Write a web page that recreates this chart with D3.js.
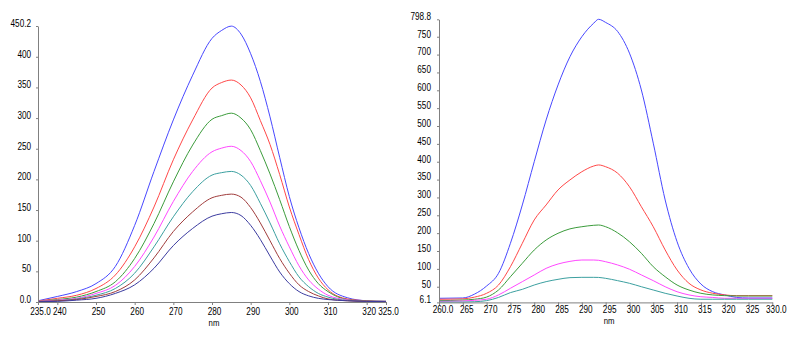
<!DOCTYPE html>
<html>
<head>
<meta charset="utf-8">
<script src="https://cdn.jsdelivr.net/npm/d3@7"></script>
<style>
  html, body { margin: 0; padding: 0; background: #fff; }
  svg { display: block; }
  .tick text { font-family: "Liberation Sans", Arial, sans-serif; font-size: 10px; fill: #000; }
  .axis-title { font-family: "Liberation Sans", Arial, sans-serif; font-size: 9.5px; fill: #000; }
</style>
</head>
<body>
<div id="chart"></div>
<script>
// ---- Data: left spectrum (7 scans) ----
const leftNm = [235, 240, 245, 250, 255, 260, 265, 270, 275, 280, 282.5, 285, 287.5, 290, 292.5, 295, 297.5, 300, 302.5, 305, 307.5, 310, 315, 320, 325];
const leftBlue    = [2, 9, 17, 30, 58, 125, 213, 297, 370, 430, 443, 450, 437, 405, 360, 302, 236, 172, 121, 79, 47, 25, 7, 2, 1];
const leftRed     = [1.5, 6, 11, 22, 44, 90, 155, 232, 297, 349, 358, 362, 354, 333, 296, 257, 208, 155, 110, 69, 39, 20, 5, 2, 1];
const leftGreen   = [1, 4, 8, 17, 33, 71, 128, 196, 256, 298, 304, 308, 300, 281, 247, 209, 167, 123, 84, 52, 30, 17, 4, 1.5, 1];
const leftMagenta = [1, 3, 6, 14, 27, 58, 106, 164, 213, 245, 251, 254, 247, 229, 198, 163, 124, 90, 59, 36, 21, 11, 3.5, 1, 1];
const leftTeal    = [0.5, 2, 5, 11, 22, 47, 90, 139, 180, 207, 211, 213, 207, 190, 161, 129, 95, 66, 41, 25, 14, 8, 2.5, 1, 1];
const leftBrown   = [0.5, 2, 4, 9, 17, 36, 72, 115, 147, 170, 174, 176, 171, 154, 129, 100, 71, 47, 28, 17, 10, 5, 2, 1, 0.5];
const leftNavy    = [0.5, 1, 3, 6, 14, 28, 55, 92, 120, 140, 144, 146, 141, 125, 102, 75, 49, 30, 17, 10, 6, 4, 2, 1, 0.5];

const leftXTicks = [235, 240, 250, 260, 270, 280, 290, 300, 310, 320, 325];
const leftXLabels = ["235.0", "240", "250", "260", "270", "280", "290", "300", "310", "320", "325.0"];
const leftYTicks = [0, 50, 100, 150, 200, 250, 300, 350, 400, 450.2];
const leftYLabels = ["0.0", "50", "100", "150", "200", "250", "300", "350", "400", "450.2"];

// ---- Data: right spectrum (5 scans) ----
const rightNm = [260, 265, 267.5, 270, 272.5, 275, 277.5, 280, 282.5, 285, 287.5, 290, 292.5, 293.5, 295, 297.5, 300, 302.5, 305, 307.5, 310, 312.5, 315, 317.5, 320, 322.5, 325, 330];
const rightBlue    = [17.6, 18.5, 29.6, 52, 87.6, 171.6, 279, 400, 517, 615, 694, 750, 788, 798.8, 790, 765, 704, 601, 452, 293, 176, 101.6, 57.6, 36, 27, 20, 18.5, 18.5];
const rightRed     = [14.8, 16, 21, 31.6, 54.8, 106, 171.6, 237, 279, 321, 349, 372, 388, 391, 386, 368, 330, 274, 218, 153, 97, 59.6, 41, 31.6, 27, 25, 25, 25];
const rightGreen   = [11, 12.7, 15, 21, 40.8, 78, 115.6, 152.8, 180.8, 199.6, 212, 218, 222, 222.8, 218, 201, 176, 143.6, 106, 78, 54.8, 40.8, 31.6, 27, 25, 24, 24, 24];
const rightMagenta = [9, 10, 12, 15, 27, 45.6, 64.2, 82.9, 101.5, 113.6, 121, 124.8, 124.8, 124, 120, 111, 99, 83, 67, 50, 36, 27, 22, 20, 17.6, 17.6, 17.6, 17.6];
const rightTeal    = [7, 7, 8, 11, 20, 33.5, 42.7, 54.8, 64.2, 70.7, 75.4, 76.3, 76.3, 76, 73.5, 67, 59.6, 50, 40.8, 31.6, 24, 17.6, 15, 15, 15, 15, 15, 15];

const rightXTicks = [260, 265, 270, 275, 280, 285, 290, 295, 300, 305, 310, 315, 320, 325, 330];
const rightXLabels = ["260.0", "265", "270", "275", "280", "285", "290", "295", "300", "305", "310", "315", "320", "325", "330.0"];
const rightYTicks = [6.1, 50, 100, 150, 200, 250, 300, 350, 400, 450, 500, 550, 600, 650, 700, 750, 798.8];
const rightYLabels = ["6.1", "50", "100", "150", "200", "250", "300", "350", "400", "450", "500", "550", "600", "650", "700", "750", "798.8"];

// Line colours
const colors = {
    blue: "#4848ff",
    red: "#ff4848",
    green: "#3c9c3c",
    magenta: "#ff48ff",
    teal: "#3ca0a0",
    brown: "#a03c3c",
    navy: "#3c3ca0"
};

// the original labels use a condensed face; squeeze the regular one
const squeeze = 0.82;

const svg = d3.select("#chart").append("svg")
    .attr("width", 800)
    .attr("height", 339);

// Draw one spectrum panel
function drawPanel(opts) {
    const x = d3.scaleLinear().domain(opts.xDomain).range(opts.xRange);
    const y = d3.scaleLinear().domain(opts.yDomain).range(opts.yRange);

    // curves
    const line = d3.line()
        .x(d => x(d[0]))
        .y(d => y(d[1]))
        .curve(d3.curveMonotoneX);

    opts.series.forEach(s => {
        svg.append("path")
            .datum(opts.nm.map((n, i) => [n, s.values[i]]))
            .attr("fill", "none")
            .attr("stroke", s.color)
            .attr("stroke-width", 1)
            .attr("d", line);
    });

    // x axis
    const xAxis = svg.append("g")
        .attr("transform", `translate(0,${opts.yRange[0]})`)
        .call(d3.axisBottom(x)
            .tickValues(opts.xTicks)
            .tickFormat((d, i) => opts.xLabels[i])
            .tickSize(3)
            .tickSizeOuter(0)
            .tickPadding(opts.xPad));
    xAxis.selectAll("text")
        .attr("dx", opts.xLabelShift / squeeze)
        .attr("transform", `scale(${squeeze},1)`);

    // y axis
    const yAxis = svg.append("g")
        .attr("transform", `translate(${opts.xRange[0]},0)`)
        .call(d3.axisLeft(y)
            .tickValues(opts.yTicks)
            .tickFormat((d, i) => opts.yLabels[i])
            .tickSize(2)
            .tickSizeOuter(0)
            .tickPadding(opts.yPad));
    yAxis.selectAll("text")
        .attr("dy", "0.04em")
        .attr("transform", `scale(${squeeze},1)`);

    [xAxis, yAxis].forEach(a => {
        a.select(".domain").attr("stroke", "#808080");
        a.selectAll(".tick line").attr("stroke", "#808080");
    });

    // axis title
    const cx = x((opts.xDomain[0] + opts.xDomain[1]) / 2) + opts.xLabelShift;
    svg.append("text")
        .attr("class", "axis-title")
        .attr("transform", `translate(${cx},${opts.titleY}) scale(${squeeze},1)`)
        .attr("text-anchor", "middle")
        .text("nm");
}

drawPanel({
    nm: leftNm,
    xDomain: [235, 325], xRange: [38, 386],
    yDomain: [0, 450.2], yRange: [302, 26],
    xTicks: leftXTicks, xLabels: leftXLabels,
    yTicks: leftYTicks, yLabels: leftYLabels,
    xPad: 3, yPad: 6.5, xLabelShift: 2, titleY: 326,
    series: [
        { values: leftBlue, color: colors.blue },
        { values: leftRed, color: colors.red },
        { values: leftGreen, color: colors.green },
        { values: leftMagenta, color: colors.magenta },
        { values: leftTeal, color: colors.teal },
        { values: leftBrown, color: colors.brown },
        { values: leftNavy, color: colors.navy }
    ]
});

drawPanel({
    nm: rightNm,
    xDomain: [260, 330], xRange: [439, 772.3],
    yDomain: [6.1, 798.8], yRange: [302.4, 19.3],
    xTicks: rightXTicks, xLabels: rightXLabels,
    yTicks: rightYTicks, yLabels: rightYLabels,
    xPad: 1, yPad: 7.8, xLabelShift: 3.5, titleY: 323.5,
    series: [
        { values: rightBlue, color: colors.blue },
        { values: rightRed, color: colors.red },
        { values: rightGreen, color: colors.green },
        { values: rightMagenta, color: colors.magenta },
        { values: rightTeal, color: colors.teal }
    ]
});
</script>
</body>
</html>
